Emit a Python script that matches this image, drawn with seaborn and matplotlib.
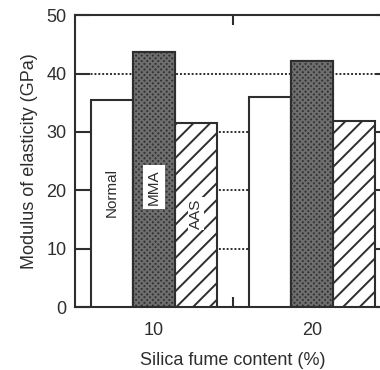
import matplotlib
matplotlib.use("Agg")
import matplotlib.pyplot as plt
import seaborn as sns
import pandas as pd
from matplotlib.patches import Rectangle

content = ["10", "20"]
mix_types = ["Normal", "MMA", "AAS"]
normal = [35.4, 36.0]
mma = [43.7, 42.2]
aas = [31.5, 31.8]
y_ticks = [0, 10, 20, 30, 40, 50]

sns.set_theme(style="white")
plt.rcParams["font.family"] = ["Liberation Sans", "DejaVu Sans"]
plt.rcParams["hatch.linewidth"] = 1.4

df = pd.DataFrame({
    "content": content * 3,
    "type": [t for t in mix_types for _ in content],
    "value": normal + mma + aas,
})

ink = "#2e2e2e"
fig = plt.figure(figsize=(3.8, 3.7), dpi=100)
ax = fig.add_axes([0.197, 0.170, 0.832, 0.789])

sns.barplot(data=df, x="content", y="value", hue="type", hue_order=mix_types,
            order=content, ax=ax, width=0.8, legend=False, errorbar=None,
            zorder=3)

patches = list(ax.patches)
n = len(content)
for i, p in enumerate(patches):
    kind = mix_types[i // n]
    p.set_linewidth(1.5)
    p.set_edgecolor(ink)
    if kind == "Normal":
        p.set_facecolor("white")
    elif kind == "MMA":
        p.set_facecolor("#333333")
        ov = Rectangle((p.get_x(), p.get_y()), p.get_width(), p.get_height(),
                       fill=False, hatch="xxxxxx", edgecolor="#6e6e6e",
                       linewidth=0, zorder=3.5)
        ax.add_patch(ov)
        ol = Rectangle((p.get_x(), p.get_y()), p.get_width(), p.get_height(),
                       fill=False, edgecolor=ink, linewidth=1.5, zorder=3.6)
        ax.add_patch(ol)
    else:
        p.set_facecolor("white")
        p.set_hatch("//")

def center(i):
    p = patches[i]
    return p.get_x() + p.get_width() / 2

ax.text(center(0), 19.7, "Normal", rotation=90, ha="center", va="center",
        fontsize=11, color=ink, zorder=5)
ax.text(center(n), 20.6, "MMA", rotation=90, ha="center", va="center",
        fontsize=11, color=ink, zorder=5,
        bbox=dict(facecolor="white", edgecolor="none", pad=3.0))
ax.text(center(2 * n), 16, "AAS", rotation=90, ha="center", va="center",
        fontsize=11, color=ink, zorder=5,
        bbox=dict(facecolor="white", edgecolor="none", pad=1.0))

ax.set_xlim(-0.5, 1.5)
ax.set_ylim(0, 50)
ax.set_yticks(y_ticks)
for t in [10, 20, 30, 40]:
    ax.axhline(t, linestyle=(0, (1.0, 1.0)), color=ink, linewidth=1.4, zorder=1)

ax.tick_params(axis="y", direction="in", length=11, width=1.5, color=ink,
               left=True, right=True, labelsize=13, labelcolor=ink, pad=6)
ax.tick_params(axis="x", length=0, labelsize=13, labelcolor=ink, pad=11)
ax.set_xticks([0.5], minor=True)
ax.tick_params(axis="x", which="minor", direction="in", length=7, width=1.5,
               color=ink, top=True, bottom=True)

for s in ax.spines.values():
    s.set_linewidth(1.5)
    s.set_color(ink)

ax.set_xlabel("Silica fume content (%)", fontsize=13, color=ink, labelpad=9)
ax.set_ylabel("Modulus of elasticity (GPa)", fontsize=13, color=ink, labelpad=6)

fig.savefig("out.png", dpi=100)
